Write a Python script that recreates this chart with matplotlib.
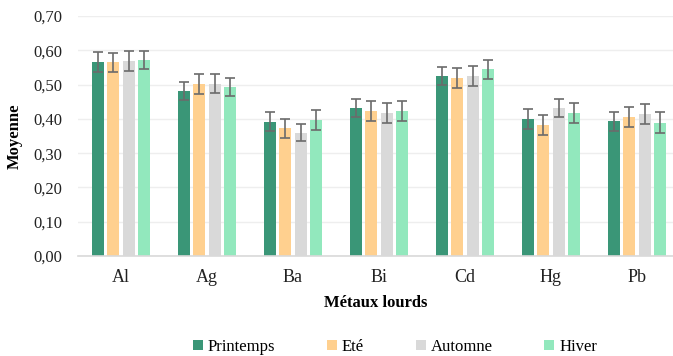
import matplotlib
matplotlib.use("Agg")
import matplotlib.pyplot as plt
import numpy as np

metaux = ["Al", "Ag", "Ba", "Bi", "Cd", "Hg", "Pb"]
saisons = ["Printemps", "Eté", "Automne", "Hiver"]

printemps = [0.566, 0.481, 0.392, 0.431, 0.526, 0.399, 0.393]
ete       = [0.565, 0.502, 0.372, 0.423, 0.520, 0.382, 0.405]
automne   = [0.569, 0.503, 0.360, 0.416, 0.526, 0.431, 0.414]
hiver     = [0.571, 0.493, 0.397, 0.423, 0.544, 0.417, 0.389]

err_printemps = [0.028, 0.027, 0.027, 0.027, 0.026, 0.029, 0.028]
err_ete       = [0.028, 0.029, 0.029, 0.029, 0.029, 0.030, 0.029]
err_automne   = [0.028, 0.028, 0.026, 0.029, 0.029, 0.027, 0.029]
err_hiver     = [0.027, 0.026, 0.029, 0.029, 0.028, 0.028, 0.030]

yticks = [0.0, 0.1, 0.2, 0.3, 0.4, 0.5, 0.6, 0.7]

couleurs = ["#3a9677", "#ffd08f", "#d9d9d9", "#92e8bd"]

plt.rcParams["font.family"] = ["Liberation Serif", "DejaVu Serif"]

fig = plt.figure(figsize=(6.73, 3.56), dpi=100)
ax = fig.add_axes([78 / 673, 100 / 356, 1 - 78 / 673, 240 / 356])

x = np.arange(len(metaux))
largeur = 0.14
pas = 0.18
series = [printemps, ete, automne, hiver]
erreurs = [err_printemps, err_ete, err_automne, err_hiver]
for i, (vals, errs, nom, c) in enumerate(zip(series, erreurs, saisons, couleurs)):
    pos = x + (i - 1.5) * pas
    ax.bar(pos, vals, width=largeur, color=c, label=nom, zorder=2)
    ax.errorbar(pos, vals, yerr=errs, fmt="none", ecolor="#6b6b6b",
                elinewidth=1.2, capsize=3.6, capthick=1.2, zorder=3)

ax.set_ylim(0, 0.7)
ax.set_yticks(yticks)
ax.set_yticklabels([f"{v:.2f}".replace(".", ",") for v in yticks], fontsize=12)
ax.set_xlim(-0.5, 595 / 86 - 0.5)
ax.set_xticks(x)
ax.set_xticklabels(metaux, fontsize=13)
ax.tick_params(axis="both", length=0, colors="#222222")
ax.tick_params(axis="x", pad=9)
ax.tick_params(axis="y", pad=11)

ax.grid(axis="y", color="#eeeeee", linewidth=1, zorder=0)
ax.set_axisbelow(True)
for s in ["top", "right", "left"]:
    ax.spines[s].set_visible(False)
ax.spines["bottom"].set_color("#d9d9d9")
ax.spines["bottom"].set_linewidth(1.2)

ax.set_ylabel("Moyenne", fontsize=12, fontweight="bold", labelpad=8)
ax.set_xlabel("Métaux lourds", fontsize=12, fontweight="bold", labelpad=7)

handles, labels = ax.get_legend_handles_labels()
fig.legend(handles, labels, loc="center", bbox_to_anchor=(395 / 673, 1 - 347 / 356),
           ncol=4, frameon=False, fontsize=12, handlelength=0.6, handleheight=0.6,
           handletextpad=0.3, columnspacing=3.1)

fig.savefig("out.png", dpi=100)
